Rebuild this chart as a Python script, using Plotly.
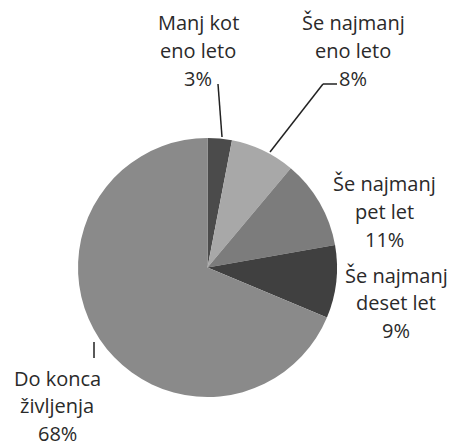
import plotly.graph_objects as go

labels = ["Manj kot eno leto", "Še najmanj eno leto", "Še najmanj pet let",
          "Še najmanj deset let", "Do konca življenja"]
values = [3, 8, 11, 9, 68]
colors = ["#4b4b4b", "#a8a8a8", "#7c7c7c", "#404040", "#8a8a8a"]
label_lines = [["Manj kot", "eno leto"], ["Še najmanj", "eno leto"], ["Še najmanj", "pet let"],
               ["Še najmanj", "deset let"], ["Do konca", "življenja"]]

W, H = 456, 448
OFF = 8  # page body margin
def px(x): return (x - OFF) / W
def py(y): return 1 - (y - OFF) / H

fig = go.Figure(go.Pie(
    labels=labels, values=values, sort=False, direction="clockwise", rotation=0,
    marker=dict(colors=colors, line=dict(width=0)),
    textinfo="none", hoverinfo="label+percent", showlegend=False,
    domain=dict(x=[px(77), px(338)], y=[py(397), py(138)]),
))

# label block: center x, y of first line, line spacing (page pixels)
label_pos = [(198, 22, 28.5), (353, 22, 28.5), (384, 183, 28), (396, 275, 27.5), (57, 378, 27.5)]
font = dict(family="Open Sans, Liberation Sans, sans-serif", size=20, color="#2a2a2a")
for lines, v, (x, y0, dy) in zip(label_lines, values, label_pos):
    for i, t in enumerate(lines + [f"{v}%"]):
        fig.add_annotation(x=px(x), y=py(y0 + i * dy), xref="paper", yref="paper",
                           text=t, showarrow=False, font=font, borderpad=0,
                           xanchor="center", yanchor="middle")

line = dict(color="#222222", width=1.5)
leaders = [
    [(218, 84), (222, 137)],
    [(337, 84), (323, 84), (270, 152)],
    [(94, 342), (94, 358)],
]
for pts in leaders:
    for (x0, y0), (x1, y1) in zip(pts[:-1], pts[1:]):
        fig.add_shape(type="line", xref="paper", yref="paper",
                      x0=px(x0), y0=py(y0), x1=px(x1), y1=py(y1), line=line)

fig.update_layout(width=W, height=H, margin=dict(l=0, r=0, t=0, b=0),
                  paper_bgcolor="white", plot_bgcolor="white")
fig.write_html("out.html")
